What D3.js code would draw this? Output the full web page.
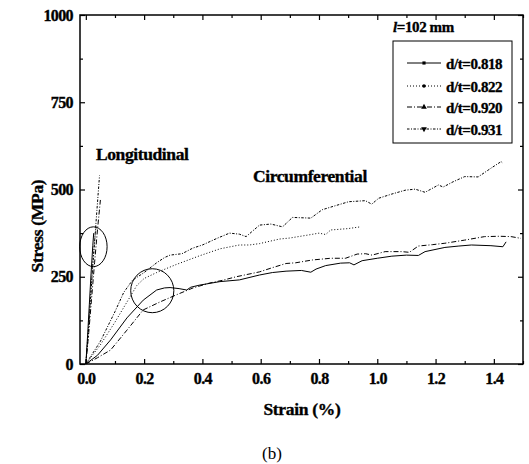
<!DOCTYPE html>
<html>
<head>
<meta charset="utf-8">
<script src="https://cdn.jsdelivr.net/npm/d3@7"></script>
<style>
  body { margin: 0; background: #fff; }
  text { font-family: "Liberation Serif", "Times New Roman", serif; }
</style>
</head>
<body>
<div id="chart"></div>
<script>
// tick values
const xMajor = [0, 0.2, 0.4, 0.6, 0.8, 1.0, 1.2, 1.4];
const xMinor = [0.1, 0.3, 0.5, 0.7, 0.9, 1.1, 1.3, 1.5];
const yMajor = [0, 250, 500, 750, 1000];
const yMinor = [125, 375, 625, 875];

const seriesNames = ["d/t=0.818", "d/t=0.822", "d/t=0.920", "d/t=0.931"];

// [strain %, stress MPa]
const long818 = [[0,0],[0.006,80],[0.012,170],[0.018,260],[0.024,340],[0.027,375]];
const long822 = [[0,0],[0.008,90],[0.016,190],[0.024,290],[0.032,370],[0.036,395]];
const long920 = [[0,0],[0.01,90],[0.02,190],[0.03,290],[0.04,385],[0.05,470]];
const long931 = [[0,0],[0.008,80],[0.015,170],[0.022,260],[0.03,350],[0.038,440],[0.047,540]];

const circ818 = [[0,0],[0.04,25],[0.085,69],[0.141,132],[0.197,183],[0.243,212],[0.27,218],[0.289,219],
  [0.32,216],[0.346,212],[0.36,220],[0.39,226],[0.46,236],[0.527,241],[0.596,255],[0.64,262],[0.687,266],
  [0.74,268],[0.772,263],[0.79,272],[0.823,282],[0.874,289],[0.905,290],[0.92,284],[0.948,296],[1.0,303],
  [1.05,309],[1.1,312],[1.141,311],[1.164,322],[1.232,334],[1.28,338],[1.323,341],[1.39,339],[1.431,336],[1.442,350]];
const circ822 = [[0,0],[0.05,55],[0.1,120],[0.15,190],[0.175,225],[0.2,245],[0.243,262],[0.31,285],[0.39,310],
  [0.46,330],[0.527,341],[0.561,341],[0.596,345],[0.664,358],[0.7,361],[0.766,370],[0.8,375],[0.823,371],
  [0.84,384],[0.9,388],[0.942,393]];
const circ920 = [[0,0],[0.04,18],[0.085,40],[0.141,97],[0.197,155],[0.255,178],[0.31,198],[0.368,218],[0.425,232],
  [0.47,240],[0.516,250],[0.596,264],[0.64,276],[0.687,288],[0.72,290],[0.777,298],[0.84,303],[0.891,303],
  [0.931,315],[0.96,316],[0.982,312],[1.027,322],[1.084,322],[1.11,320],[1.141,338],[1.19,342],[1.232,346],
  [1.30,355],[1.368,365],[1.42,366],[1.459,365],[1.493,360]];
const circ931 = [[0,0],[0.05,65],[0.1,150],[0.13,205],[0.16,240],[0.2,262],[0.243,290],[0.27,305],[0.289,312],
  [0.33,316],[0.367,332],[0.4,341],[0.45,360],[0.493,375],[0.527,372],[0.55,365],[0.596,398],[0.635,401],
  [0.675,393],[0.709,420],[0.772,418],[0.811,442],[0.85,452],[0.902,465],[0.959,468],[0.981,458],[1.005,475],
  [1.05,487],[1.096,498],[1.13,501],[1.164,492],[1.21,513],[1.226,507],[1.26,522],[1.30,537],[1.346,536],
  [1.39,561],[1.425,580],[1.43,576]];

const longData = [long818, long822, long920, long931];
const circData = [circ818, circ822, circ920, circ931];
const dashes = [null, "1,2", "5,2,1,2", "2.5,1.5,1,1.5"];
const symbols = [d3.symbolSquare, d3.symbolCircle, d3.symbolTriangle, d3.symbolTriangle];

// circled regions: [strain, stress, strain radius, stress radius]
const marks = [[0.026, 336, 0.047, 57], [0.228, 210, 0.074, 63]];

dim = { 'width': 529, 'height': 464 };
var svg = d3.select("#chart").append('svg')
    .attr('width', dim.width).attr('height', dim.height);

var xScale = d3.scaleLinear().domain([-0.02, 1.5]).range([80, 523]);
var yScale = d3.scaleLinear().domain([0, 1000]).range([364, 15]);

const pLeft = 80, pRight = 523, pTop = 15, pBottom = 364;

function styleAxis(g) {
    g.select('.domain').remove();
    g.selectAll('line').attr('stroke', '#000').attr('stroke-width', 1.2);
}

// heavy bold serif, like the printed figure
function boldText(sel, size) {
    sel.attr('font-size', size).attr('font-weight', 'bold')
        .attr('font-family', '"Liberation Serif", serif')
        .attr('fill', '#000').attr('stroke', '#000').attr('stroke-width', 0.35);
}

// bottom
svg.append('g').attr('transform', `translate(0,${pBottom})`)
    .call(d3.axisBottom(xScale).tickValues(xMajor).tickSize(-5).tickPadding(9).tickFormat(d3.format('.1f')))
    .call(styleAxis)
    .selectAll('text').call(boldText, 16).attr('letter-spacing', -0.6);
svg.append('g').attr('transform', `translate(0,${pBottom})`)
    .call(d3.axisBottom(xScale).tickValues(xMinor).tickSize(-3).tickFormat(''))
    .call(styleAxis);
// top
svg.append('g').attr('transform', `translate(0,${pTop})`)
    .call(d3.axisTop(xScale).tickValues(xMajor).tickSize(-5).tickFormat(''))
    .call(styleAxis);
svg.append('g').attr('transform', `translate(0,${pTop})`)
    .call(d3.axisTop(xScale).tickValues(xMinor).tickSize(-3).tickFormat(''))
    .call(styleAxis);
// left
svg.append('g').attr('transform', `translate(${pLeft},0)`)
    .call(d3.axisLeft(yScale).tickValues(yMajor).tickSize(-5).tickPadding(7).tickFormat(d3.format('d')))
    .call(styleAxis)
    .selectAll('text').call(boldText, 16).attr('letter-spacing', -0.6);
svg.append('g').attr('transform', `translate(${pLeft},0)`)
    .call(d3.axisLeft(yScale).tickValues(yMinor).tickSize(-3).tickFormat(''))
    .call(styleAxis);
// right
svg.append('g').attr('transform', `translate(${pRight},0)`)
    .call(d3.axisRight(yScale).tickValues(yMajor).tickSize(-5).tickFormat(''))
    .call(styleAxis);
svg.append('g').attr('transform', `translate(${pRight},0)`)
    .call(d3.axisRight(yScale).tickValues(yMinor).tickSize(-3).tickFormat(''))
    .call(styleAxis);

// frame
svg.append('rect')
    .attr('x', pLeft).attr('y', pTop).attr('width', pRight - pLeft).attr('height', pBottom - pTop)
    .attr('fill', 'none').attr('stroke', '#000').attr('stroke-width', 1.5);

var line = d3.line()
    .x(d => xScale(d[0]))
    .y(d => yScale(d[1]));

var plot = svg.append('g');
[longData, circData].forEach(set => {
    set.forEach((data, i) => {
        plot.append('path')
            .datum(data)
            .attr('d', line)
            .attr('fill', 'none')
            .attr('stroke', '#000')
            .attr('stroke-width', 1)
            .attr('stroke-dasharray', dashes[i]);
    });
});

// circled regions
marks.forEach(m => {
    plot.append('ellipse')
        .attr('cx', xScale(m[0])).attr('cy', yScale(m[1]))
        .attr('rx', xScale(m[0] + m[2]) - xScale(m[0]))
        .attr('ry', yScale(0) - yScale(m[3]))
        .attr('fill', 'none').attr('stroke', '#000').attr('stroke-width', 1);
});

// annotations
svg.append('text').attr('x', 96).attr('y', 160)
    .call(boldText, 17.5).attr('letter-spacing', -0.4)
    .text('Longitudinal');
svg.append('text').attr('x', 253).attr('y', 182)
    .call(boldText, 17.5).attr('letter-spacing', -0.4)
    .text('Circumferential');

var lt = svg.append('text').attr('x', 393).attr('y', 32)
    .call(boldText, 15).attr('letter-spacing', -0.4);
lt.append('tspan').attr('font-style', 'italic').text('l');
lt.append('tspan').text('=102 mm');

// legend
var legend = svg.append('g');
legend.append('rect')
    .attr('x', 393).attr('y', 41).attr('width', 119).attr('height', 102)
    .attr('fill', '#fff').attr('stroke', '#000').attr('stroke-width', 1);
const legendY = [63, 86, 107, 129];
seriesNames.forEach((name, i) => {
    var yy = legendY[i];
    legend.append('line')
        .attr('x1', 407).attr('x2', 441).attr('y1', yy).attr('y2', yy)
        .attr('stroke', '#000').attr('stroke-width', 1)
        .attr('stroke-dasharray', dashes[i]);
    legend.append('path')
        .attr('d', d3.symbol().type(symbols[i]).size(i < 2 ? 10 : 14))
        .attr('transform', `translate(424,${yy})` + (i === 3 ? ' rotate(180)' : ''))
        .attr('fill', '#000');
    legend.append('text')
        .attr('x', 446).attr('y', yy + 5.5)
        .call(boldText, 15).attr('letter-spacing', -0.4)
        .text(name);
});

// axis titles
svg.append('text')
    .attr('transform', 'translate(43,226) rotate(-90)')
    .attr('text-anchor', 'middle')
    .call(boldText, 17.5).attr('letter-spacing', -0.3)
    .text('Stress (MPa)');
svg.append('text')
    .attr('x', 302).attr('y', 415)
    .attr('text-anchor', 'middle')
    .call(boldText, 17.5).attr('letter-spacing', -0.3)
    .text('Strain (%)');
svg.append('text')
    .attr('x', 272).attr('y', 459)
    .attr('text-anchor', 'middle')
    .attr('font-size', 17)
    .text('(b)');
</script>
</body>
</html>
